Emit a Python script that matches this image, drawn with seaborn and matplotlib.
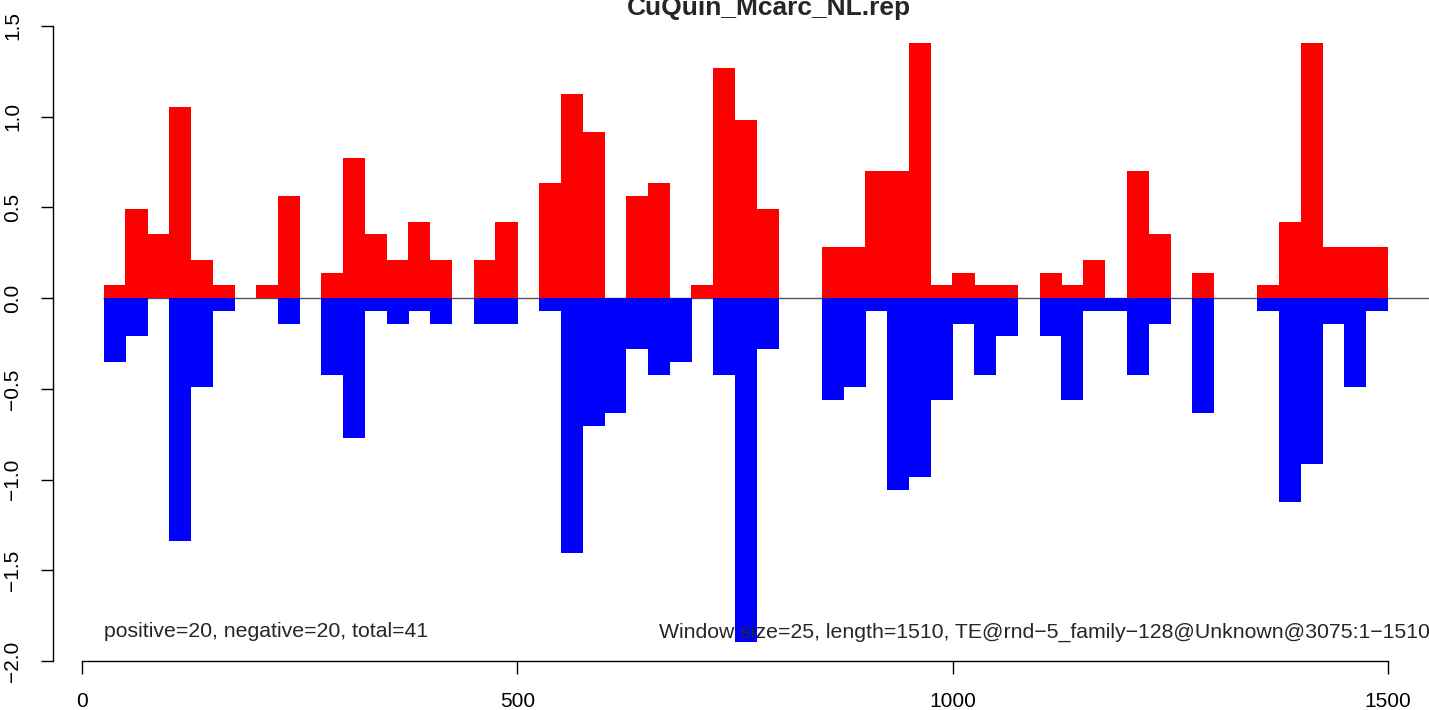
import matplotlib
matplotlib.use("Agg")
import matplotlib.pyplot as plt
import seaborn as sns
import pandas as pd

# ---- data -------------------------------------------------------------
window_start = list(range(25, 1500, 25))          # 59 windows of size 25
window_center = [s + 12.5 for s in window_start]

positive = [0.070, 0.492, 0.352, 1.055, 0.211, 0.070, 0.000, 0.070, 0.562, 0.000,
            0.141, 0.773, 0.352, 0.211, 0.422, 0.211, 0.000, 0.211, 0.422, 0.000,
            0.633, 1.125, 0.914, 0.000, 0.562, 0.633, 0.000, 0.070, 1.266, 0.984,
            0.492, 0.000, 0.000, 0.281, 0.281, 0.703, 0.703, 1.406, 0.070, 0.141,
            0.070, 0.070, 0.000, 0.141, 0.070, 0.211, 0.000, 0.703, 0.352, 0.000,
            0.141, 0.000, 0.000, 0.070, 0.422, 1.406, 0.281, 0.281, 0.281]

negative = [-0.352, -0.211, 0.000, -1.336, -0.492, -0.070, 0.000, 0.000, -0.141, 0.000,
            -0.422, -0.773, -0.070, -0.141, -0.070, -0.141, 0.000, -0.141, -0.141, 0.000,
            -0.070, -1.406, -0.703, -0.633, -0.281, -0.422, -0.352, 0.000, -0.422, -1.898,
            -0.281, 0.000, 0.000, -0.562, -0.492, -0.070, -1.055, -0.984, -0.562, -0.141,
            -0.422, -0.211, 0.000, -0.211, -0.562, -0.070, -0.070, -0.422, -0.141, 0.000,
            -0.633, 0.000, 0.000, -0.070, -1.125, -0.914, -0.141, -0.492, -0.070]

title = "CuQuin_Mcarc_NL.rep"
left_note = "positive=20, negative=20, total=41"
right_note = "Window size=25, length=1510, TE@rnd\u22125_family\u2212128@Unknown@3075:1\u22121510"
x_ticks = [0, 500, 1000, 1500]
y_ticks = [-2.0, -1.5, -1.0, -0.5, 0.0, 0.5, 1.0, 1.5]

df = pd.DataFrame({"pos": window_center, "positive": positive, "negative": negative})

# ---- style ------------------------------------------------------------
sns.set_style("ticks")
plt.rcParams["font.family"] = ["Liberation Sans", "DejaVu Sans"]
plt.rcParams["axes.unicode_minus"] = True

W, H = 1429, 710
fig = plt.figure(figsize=(W / 100, H / 100), dpi=100)

ax_left_px, ax_right_px = 53, 1429
ax_top_px, ax_bot_px = 26, 661
ax = fig.add_axes([ax_left_px / W, 1 - ax_bot_px / H,
                   (ax_right_px - ax_left_px) / W, (ax_bot_px - ax_top_px) / H])

sns.barplot(data=df, x="pos", y="positive", native_scale=True, width=1.02,
            color="#FF0000", saturation=1, linewidth=0, errorbar=None,
            antialiased=False, ax=ax, zorder=2)
sns.barplot(data=df, x="pos", y="negative", native_scale=True, width=1.02,
            color="#0000FF", saturation=1, linewidth=0, errorbar=None,
            antialiased=False, ax=ax, zorder=2)

# x mapping: 0 -> px 82, 1500 -> px 1388
scale = (1388 - 82) / 1500
xmin = (ax_left_px - 82) / scale
xmax = (ax_right_px - 82) / scale
ax.set_xlim(xmin, xmax)
ax.set_ylim(-2.0, 1.5)

ax.hlines(0, 24, 1700, color="#555555", lw=1.0, zorder=1)

ax.set_xlabel("")
ax.set_ylabel("")
ax.set_xticks(x_ticks)
ax.set_xticklabels([str(t) for t in x_ticks])
ax.set_yticks(y_ticks)
ax.set_yticklabels([f"{t:.1f}".replace("-", "\u2212") for t in y_ticks])

for s in ["top", "right"]:
    ax.spines[s].set_visible(False)
ax.spines["left"].set_bounds(-2.0, 1.5)
ax.spines["bottom"].set_bounds(0, 1500)
for s in ["left", "bottom"]:
    ax.spines[s].set_linewidth(1.0)
    ax.spines[s].set_color("black")

ax.tick_params(axis="both", direction="out", length=9, width=1.0,
               colors="black", labelsize=15)
ax.tick_params(axis="x", pad=13)
ax.tick_params(axis="y", pad=20)
for lab in ax.get_yticklabels():
    lab.set_rotation(90)
    lab.set_ha("center")
    lab.set_va("center")

ax.text(25, -1.84, left_note, ha="left", va="center", fontsize=15.3, clip_on=False)
ax.text((659 - 82) / scale, -1.84, right_note, ha="left", va="center",
        fontsize=15.3, clip_on=False)

fig.text(769 / W, 1 - 15 / H, title, ha="center", va="baseline",
         fontsize=19, fontweight="bold")

ax.set_facecolor("white")
fig.patch.set_facecolor("white")
fig.savefig("out.png", dpi=100)
